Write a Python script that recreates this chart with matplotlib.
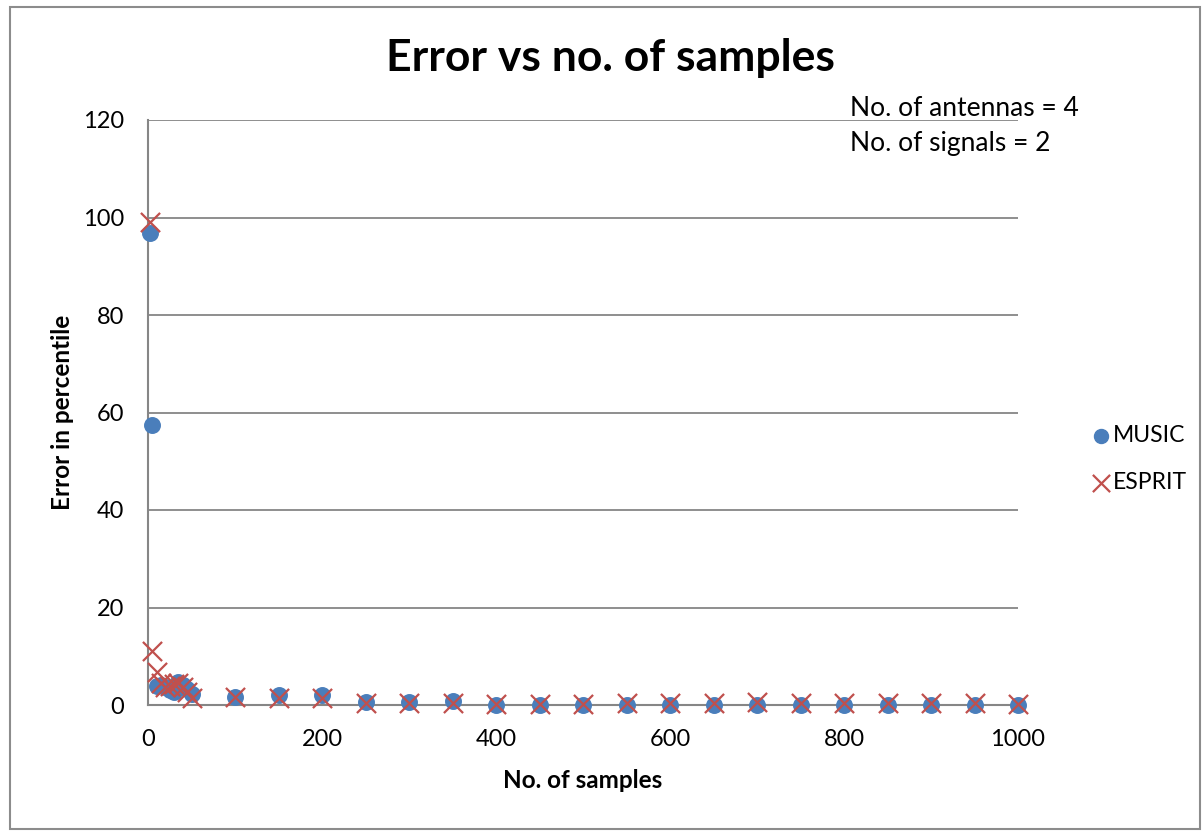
import matplotlib
matplotlib.use("Agg")
import matplotlib.pyplot as plt
from matplotlib.patches import Rectangle

plt.rcParams['font.family'] = ['Lato', 'DejaVu Sans']

samples = [2, 5, 10, 15, 20, 25, 30, 35, 40, 45, 50,
           100, 150, 200, 250, 300, 350, 400, 450, 500, 550, 600,
           650, 700, 750, 800, 850, 900, 950, 1000]
music = [96.8, 57.5, 4.0, 4.2, 3.6, 3.0, 2.7, 4.8, 4.2, 3.2, 2.3,
         1.7, 2.1, 2.0, 0.7, 0.6, 0.8, 0.0, 0.0, 0.0, 0.0, 0.0,
         0.0, 0.0, 0.0, 0.0, 0.0, 0.0, 0.0, 0.0]
esprit = [99.1, 11.1, 6.7, 4.6, 3.7, 3.8, 4.3, 4.5, 3.6, 2.6, 1.5,
          1.6, 1.4, 1.5, 0.5, 0.4, 0.5, 0.3, 0.3, 0.3, 0.4, 0.4,
          0.4, 0.7, 0.4, 0.4, 0.4, 0.4, 0.4, 0.3]

W, H = 1204, 831
fig = plt.figure(figsize=(W / 100, H / 100), dpi=100)
fig.patches.append(Rectangle((10 / W, 2 / H), 1190 / W, 822 / H, transform=fig.transFigure,
                             fill=False, edgecolor='#8c8c8c', linewidth=1.5))

ax = fig.add_axes([148 / W, 1 - 705 / H, 870 / W, 585 / H])
ax.set_xlim(0, 1000)
ax.set_ylim(0, 120)
ax.set_xticks(range(0, 1001, 200))
ax.set_yticks(range(0, 121, 20))
ax.yaxis.grid(True, color='#868686', linewidth=1.3)
ax.set_axisbelow(True)
for s in ['top', 'right']:
    ax.spines[s].set_visible(False)
for s in ['left', 'bottom']:
    ax.spines[s].set_color('#868686')
    ax.spines[s].set_linewidth(1.5)
ax.tick_params(axis='y', length=0, labelsize=17, pad=17)
ax.tick_params(axis='x', length=0, labelsize=17, pad=17)

ax.scatter(samples, music, s=125, color='#4a7ebb', label='MUSIC', zorder=3, clip_on=False)
ax.scatter(samples, esprit, s=190, marker='x', color='#c0504d', linewidths=1.6,
           label='ESPRIT', zorder=4, clip_on=False)

fig.text(583 / W, 1 - 781 / H, 'No. of samples', fontsize=17.5, fontweight='bold',
         ha='center', va='center')
fig.text(62 / W, 1 - 412 / H, 'Error in percentile', fontsize=17.5, fontweight='bold',
         ha='center', va='center', rotation=90)
fig.text(610 / W, 1 - 58 / H, 'Error vs no. of samples', fontsize=32, fontweight='bold',
         ha='center', va='center')
fig.text(850 / W, 1 - 108 / H, 'No. of antennas = 4', fontsize=19, ha='left', va='center')
fig.text(850 / W, 1 - 143 / H, 'No. of signals = 2', fontsize=19, ha='left', va='center')

leg = fig.legend(loc='center left', bbox_to_anchor=(1080 / W, 1 - 459 / H), frameon=False,
                 fontsize=16.5, handletextpad=0.05, labelspacing=1.15, handlelength=1.0,
                 borderaxespad=0, markerscale=0.9)

fig.savefig('out.png', dpi=100)
